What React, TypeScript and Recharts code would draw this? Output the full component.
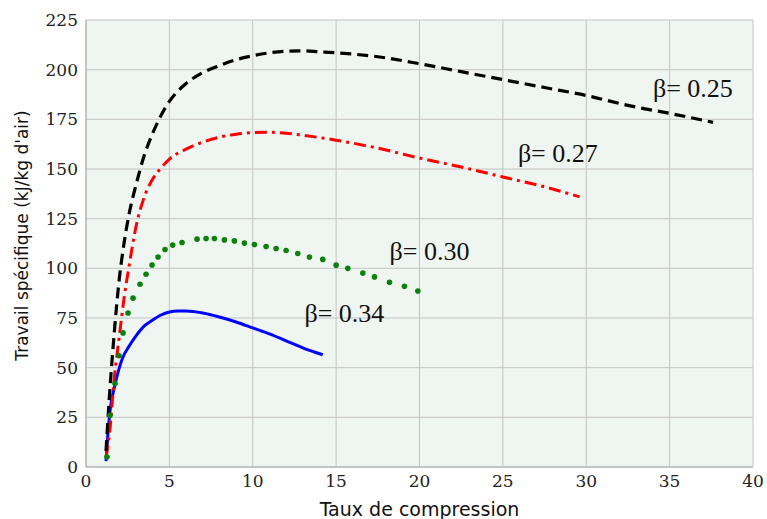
import React from 'react';
import {
  LineChart, Line, XAxis, YAxis, CartesianGrid, ReferenceDot, Label
} from 'recharts';

// Courbes (x = taux de compression, y = travail spécifique)
const beta025 = [
  { x: 1.2, y: 8 }, { x: 1.4, y: 35 }, { x: 1.7, y: 68 }, { x: 2, y: 95 },
  { x: 2.2, y: 108 }, { x: 2.6, y: 128 }, { x: 3, y: 142 }, { x: 3.5, y: 157 },
  { x: 4, y: 168 }, { x: 4.5, y: 177 }, { x: 5, y: 184 }, { x: 6, y: 193 },
  { x: 7, y: 198.5 }, { x: 8, y: 202 }, { x: 9, y: 205 }, { x: 10, y: 207 },
  { x: 11, y: 208.5 }, { x: 12, y: 209.3 }, { x: 13, y: 209.5 }, { x: 14, y: 209 },
  { x: 15, y: 208.5 }, { x: 17.5, y: 206.5 }, { x: 20, y: 203 }, { x: 22.5, y: 199 },
  { x: 25, y: 195 }, { x: 27.5, y: 191 }, { x: 30, y: 187 }, { x: 32.5, y: 182 },
  { x: 35, y: 178 }, { x: 37.6, y: 173.5 },
];

const beta027 = [
  { x: 1.2, y: 5 }, { x: 1.4, y: 16 }, { x: 1.7, y: 45 }, { x: 2, y: 66 },
  { x: 2.3, y: 86 }, { x: 2.6, y: 102 }, { x: 3, y: 121 }, { x: 3.5, y: 136 },
  { x: 4, y: 145 }, { x: 4.5, y: 150.5 }, { x: 5, y: 155 }, { x: 6, y: 160 },
  { x: 7, y: 163.5 }, { x: 8, y: 166 }, { x: 9, y: 167.5 }, { x: 10, y: 168.3 },
  { x: 11, y: 168.5 }, { x: 12, y: 168 }, { x: 13, y: 167 }, { x: 15, y: 164.5 },
  { x: 17.5, y: 160.5 }, { x: 20, y: 155.5 }, { x: 22.5, y: 151 }, { x: 25, y: 146 },
  { x: 27.5, y: 141 }, { x: 29.6, y: 136 },
];

const beta030 = [
  { x: 1.26, y: 5 }, { x: 1.44, y: 26 }, { x: 1.74, y: 42 }, { x: 1.98, y: 56 },
  { x: 2.22, y: 67.5 }, { x: 2.52, y: 77.5 }, { x: 2.82, y: 85 }, { x: 3.24, y: 92 },
  { x: 3.6, y: 97 }, { x: 3.96, y: 101.7 }, { x: 4.32, y: 105.7 }, { x: 4.74, y: 109.5 },
  { x: 5.2, y: 111.7 }, { x: 5.76, y: 113 }, { x: 6.66, y: 114.7 }, { x: 7.2, y: 115 },
  { x: 7.7, y: 115 }, { x: 8.3, y: 114.3 }, { x: 8.9, y: 113.8 }, { x: 9.5, y: 112.7 },
  { x: 10.1, y: 112 }, { x: 10.8, y: 111 }, { x: 11.4, y: 110 }, { x: 12, y: 109 },
  { x: 12.7, y: 107.5 }, { x: 13.4, y: 105.7 }, { x: 14.2, y: 104.5 }, { x: 15, y: 101.6 },
  { x: 15.7, y: 100 }, { x: 16.6, y: 97.6 }, { x: 17.3, y: 95.7 }, { x: 18.2, y: 93 },
  { x: 19.1, y: 91 }, { x: 19.9, y: 88.6 },
];

const beta034 = [
  { x: 1.2, y: 3 }, { x: 1.3, y: 15 }, { x: 1.45, y: 29 }, { x: 1.7, y: 40 },
  { x: 2, y: 50 }, { x: 2.2, y: 55 }, { x: 2.6, y: 61 }, { x: 3, y: 66 },
  { x: 3.5, y: 71 }, { x: 4, y: 74 }, { x: 4.5, y: 76.5 }, { x: 5, y: 78 },
  { x: 5.5, y: 78.5 }, { x: 6, y: 78.5 }, { x: 7, y: 77.5 }, { x: 8, y: 75.5 },
  { x: 9, y: 73 }, { x: 10, y: 70 }, { x: 11, y: 67 }, { x: 12, y: 63.5 },
  { x: 13, y: 60 }, { x: 14.2, y: 56.5 },
];

// Étiquettes des courbes (position en coordonnées des données)
const etiquettes = [
  { texte: 'β= 0.25', x: 34.0, y: 186 },
  { texte: 'β= 0.27', x: 25.9, y: 153.5 },
  { texte: 'β= 0.30', x: 18.2, y: 104 },
  { texte: 'β= 0.34', x: 13.1, y: 73 },
];

const xTicks = [0, 5, 10, 15, 20, 25, 30, 35, 40];
const yTicks = [0, 25, 50, 75, 100, 125, 150, 175, 200, 225];

const tickStyle = { fontFamily: '"DejaVu Serif", serif', fontSize: 17, fill: '#222' };

const App: React.FC = () => {
  return (
    <div style={{ position: 'absolute', left: 0, top: 0, background: '#fff' }}>
      <LineChart width={767} height={519} margin={{ top: 20, right: 14, left: 0, bottom: 0 }}>
        <CartesianGrid stroke="#c4c4c4" fill="#eff5f1" />
        <XAxis
          type="number"
          dataKey="x"
          domain={[0, 40]}
          ticks={xTicks}
          height={52}
          tickLine={false}
          stroke="#aaa"
          tick={tickStyle}
          allowDataOverflow
        >
          <Label
            value="Taux de compression"
            position="insideBottom"
            offset={3}
            style={{ fontFamily: '"DejaVu Sans", sans-serif', fontSize: 19, fill: '#111' }}
          />
        </XAxis>
        <YAxis
          type="number"
          dataKey="y"
          domain={[0, 225]}
          ticks={yTicks}
          width={86}
          tickLine={false}
          stroke="#aaa"
          tick={tickStyle}
        >
          <Label
            content={({ viewBox }: any) => {
              const cx = viewBox.x + 22;
              const cy = viewBox.y + viewBox.height / 2 - 8;
              return (
                <text
                  x={cx}
                  y={cy}
                  transform={`rotate(-90, ${cx}, ${cy})`}
                  textAnchor="middle"
                  dominantBaseline="central"
                  style={{ fontFamily: '"DejaVu Sans", sans-serif', fontSize: 17, fill: '#111' }}
                >
                  Travail spécifique (kJ/kg d'air)
                </text>
              );
            }}
          />
        </YAxis>
        <Line
          data={beta034}
          dataKey="y"
          type="monotone"
          stroke="#0000ff"
          strokeWidth={3}
          dot={false}
          isAnimationActive={false}
        />
        <Line
          data={beta030}
          dataKey="y"
          type="monotone"
          stroke="none"
          dot={{ r: 2.8, fill: '#0a820a', stroke: 'none' }}
          isAnimationActive={false}
        />
        <Line
          data={beta027}
          dataKey="y"
          type="monotone"
          stroke="#ff0000"
          strokeWidth={3}
          strokeDasharray="12 5 3 5"
          dot={false}
          isAnimationActive={false}
        />
        <Line
          data={beta025}
          dataKey="y"
          type="monotone"
          stroke="#000"
          strokeWidth={3.2}
          strokeDasharray="11 6"
          dot={false}
          isAnimationActive={false}
        />
        {etiquettes.map((e) => (
          <ReferenceDot
            key={e.texte}
            x={e.x}
            y={e.y}
            r={0}
            shape={(p: any) => (
              <text
                x={p.cx}
                y={p.cy}
                style={{ fontFamily: '"Liberation Serif", serif', fontSize: 26, fill: '#111' }}
              >
                {e.texte}
              </text>
            )}
          />
        ))}
      </LineChart>
    </div>
  );
};

export default App;
